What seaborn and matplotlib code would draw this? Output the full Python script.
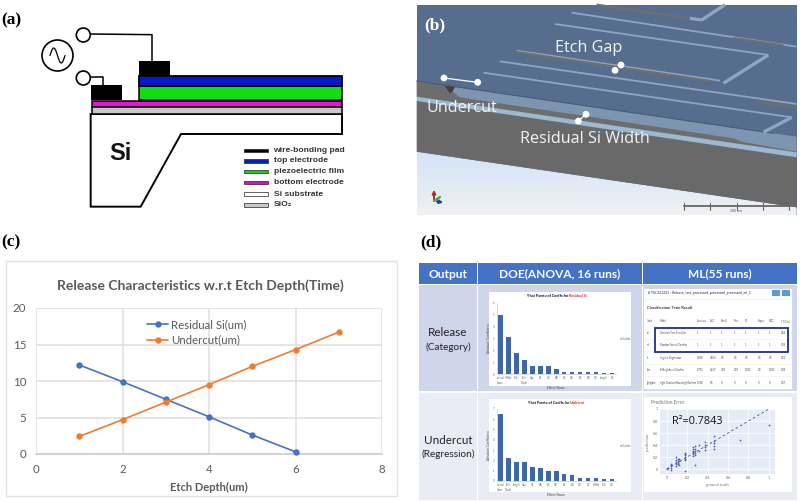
import numpy as np
import pandas as pd
import seaborn as sns
import matplotlib.pyplot as plt
from matplotlib.patches import Rectangle, Polygon, Circle

# (c) release curves
depth_residual = [1, 2, 3, 4, 5, 6]
residual_si = [12.2, 9.9, 7.5, 5.1, 2.6, 0.3]
depth_undercut = [1, 2, 3, 4, 5, 6, 7]
undercut = [2.4, 4.7, 7.1, 9.5, 12.0, 14.3, 16.7]

# (d) pareto bars
pareto_res_labels = ['Lateral\nSpace', 'Width', 'SF6', 'Etch\nDepth', 'Gap', 'C4', 'O2', 'AB', 'AC', 'AD', 'BC', 'BD', 'CD', 'Length', 'DE']
pareto_res = [5.0, 3.1, 1.75, 1.2, 0.67, 0.67, 0.67, 0.4, 0.17, 0.17, 0.17, 0.14, 0.14, 0.11, 0.11]
pareto_und_labels = ['Lateral\nSpace', 'Etch\nDepth', 'Length', 'Gap', 'C4', 'AB', 'AC', 'AD', 'BC', 'BD', 'CD', 'DE', 'Width', 'SF6', 'O2']
pareto_und = [6.5, 2.2, 1.8, 1.8, 1.4, 1.3, 0.95, 0.95, 0.65, 0.55, 0.3, 0.3, 0.3, 0.2, 0.2]

# (d) prediction error scatter
truth = [0, 0.01, 0.045, 0.045, 0.045, 0.045, 0.045, 0.09, 0.09, 0.09, 0.09, 0.09, 0.11, 0.11, 0.11, 0.11,
         0.12, 0.12, 0.12, 0.18, 0.18, 0.18, 0.18, 0.18, 0.18, 0.18, 0.26, 0.26, 0.26, 0.26, 0.26, 0.26,
         0.28, 0.28, 0.28, 0.28, 0.28, 0.28, 0.32, 0.32, 0.37, 0.37, 0.37, 0.37, 0.46, 0.46, 0.46, 0.46, 0.46, 0.72, 1.0]
predicted = [0, 0.01, -0.02, 0.02, 0.05, 0.07, 0.08, 0.05, 0.08, 0.12, 0.15, 0.2, 0.08, 0.1, 0.13, 0.17,
             0.07, 0.14, 0.16, 0.15, 0.17, 0.2, 0.23, 0.25, 0.27, -0.03, 0.22, 0.25, 0.28, 0.3, 0.33, 0.37,
             0.06, 0.24, 0.27, 0.3, 0.34, 0.38, 0.3, 0.4, 0.32, 0.37, 0.4, 0.45, 0.34, 0.38, 0.43, 0.46, 0.55, 0.49, 0.73]

# (d) classification table
table_cols = ['Index', 'Model', 'Accuracy', 'AUC', 'Recall', 'Prec.', 'F1', 'Kappa', 'MCC', 'TT (Sec)']
table_rows = [['dt', 'Decision Tree Classifier', '1', '1', '1', '1', '1', '1', '1', '0.86'],
              ['rf', 'Random Forest Classifier', '1', '1', '1', '1', '1', '1', '1', '0.28'],
              ['lr', 'Logistic Regression', '0.958', '0.863', '0.5', '0.5', '0.5', '0.5', '0.5', '0.22'],
              ['knn', 'K Neighbors Classifier', '0.792', '0.667', '0.25', '0.25', '0.222', '0.2', '0.225', '0.08'],
              ['lightgbm', 'Light Gradient Boosting Machine', '0.788', '0.5', '0', '0', '0', '0', '0', '0.07']]

# (a) legend
layer_names = ['wire-bonding pad', 'top electrode', 'piezoelectric film', 'bottom electrode', 'Si substrate', 'SiO\u2082']
layer_colors = ['#000000', '#0a1fb4', '#19d219', '#d90fc8', '#ffffff', '#c8c8c8']

sns.set_theme(style='white')
plt.rcParams['font.family'] = ['Lato', 'DejaVu Sans']

W, H = 800, 501
fig = plt.figure(figsize=(8, 5.01), dpi=100)

# whole figure in pixels, for the schematic parts
bg = fig.add_axes([0, 0, 1, 1], zorder=0)
bg.set_xlim(0, W)
bg.set_ylim(H, 0)
bg.axis('off')


def px_axes(x0, y0, x1, y1, z=3):
    return fig.add_axes([x0 / W, 1 - y1 / H, (x1 - x0) / W, (y1 - y0) / H], zorder=z)


def rect(x0, y0, x1, y1, fc, ec='none', lw=0, z=1):
    bg.add_patch(Rectangle((x0, y0), x1 - x0, y1 - y0, fc=fc, ec=ec, lw=lw, zorder=z))


def panel_label(s, x, y, color='black'):
    bg.text(x, y, s, family='Liberation Serif', weight='bold', fontsize=12.5, color=color, va='center', zorder=20)


# ---- (a) ----
panel_label('(a)', 1.5, 20)
def a(pts):
    return [(p[0] / 3, p[1] / 3) for p in pts]

bg.add_patch(Polygon(a([(272, 342), (1026, 342), (1026, 402), (543, 402), (422, 620), (272, 620)]), fc='white', ec='black', lw=1.4))
rect(91.5, 100.5, 341.5, 107, '#f00fd8', 'black', 1.1)
rect(91.5, 107, 341.5, 113.5, '#c9c9c9', 'black', 1.1)
rect(138.5, 86, 341.5, 100, '#12dc12', 'black', 1.1)
rect(138.5, 76, 342, 86, '#0718c8', 'black', 1.3)
rect(139, 61, 170, 76, 'black')
rect(91, 85, 122, 100, 'black')
bg.plot(np.array([272, 456, 456]) / 3, np.array([102, 104, 183]) / 3, color='black', lw=1.1)
bg.plot(np.array([272, 310, 310]) / 3, np.array([232, 232, 254]) / 3, color='black', lw=1.1)
bg.add_patch(Circle((83.3, 35), 7, fc='white', ec='black', lw=1.2, zorder=3))
bg.add_patch(Circle((83.3, 78), 7, fc='white', ec='black', lw=1.2, zorder=3))
bg.add_patch(Circle((57.5, 55.5), 15.5, fc='white', ec='black', lw=1.2, zorder=3))
wave_t = np.linspace(0, 2 * np.pi, 40)
bg.plot(57.5 + 7.5 * (wave_t / np.pi - 1), 55.5 - 7.5 * np.sin(wave_t), color='black', lw=0.9, zorder=4)
bg.text(109, 154, 'Si', fontsize=17, weight='bold', family='Liberation Sans', color='#111111', ha='left', va='center', zorder=4)
for i, (name, col) in enumerate(zip(layer_names, layer_colors)):
    y = [150.5, 161, 171.5, 182.5, 194, 205][i]
    rect(244, y - 1.7, 267.5, y + 1.7, col, '#222222', 0.5)
    bg.text(273.5, y, name, fontsize=6.1, weight='bold', family='Liberation Sans', color='#333333', va='center')

# ---- (b) ----
panel_label('(b)', 424.5, 25, 'white')
def b(pts):
    return [(400 + p[0] / 3, p[1] / 3) for p in pts]

def poly_b(pts, col, z):
    bg.add_patch(Polygon(b(pts), fc=col, ec='none', zorder=z))

rect(417, 5, 797, 215, '#566d8d', z=1)
sky = np.linspace(0, 1, 50)[:, None]
im = bg.imshow(sky, extent=(417, 797, 215, 150), cmap=sns.light_palette('#cfe2fa', reverse=True, as_cmap=True),
               vmin=-0.1, vmax=1, aspect='auto', zorder=2)
bg.set_xlim(0, W)
bg.set_ylim(H, 0)
im.set_clip_path(Polygon(b([(50, 455), (1190, 622), (1190, 645), (50, 645)]), transform=bg.transData))
poly_b([(50, 303), (1190, 472), (1190, 622), (50, 455)], '#696969', 2)
poly_b([(50, 243), (1120, 400), (1190, 410), (1190, 460), (50, 290)], '#6d6d6d', 2)
poly_b([(50, 290), (1190, 457), (1190, 472), (50, 303)], '#9db8d2', 3)
poly_b([(165, 260), (157, 275), (180, 292), (1000, 415), (1025, 425), (1190, 455), (1190, 400), (1120, 400)], '#7d95b0', 3)
poly_b([(135, 258), (165, 260), (157, 275), (150, 280)], '#3e3e3e', 3)
poly_b([(1120, 400), (1190, 355), (1190, 410)], '#566d8d', 3)
bg.plot(*zip(*b([(50, 243), (1120, 400)])), color='#475a76', lw=0.8, zorder=4)

edge = '#8ea6c2'
slot = '#6f6f6f'
def slit(p0, p1, col=edge, lw=1.3):
    bg.plot(*zip(*b([p0, p1])), color=col, lw=lw, solid_capstyle='butt', zorder=4)

slit((465, 72), (1105, 165))
slit((1105, 165), (970, 250), lw=2.4)
slit((350, 152), (960, 242))
slit((350, 156), (930, 243), slot, 1.6)
slit((300, 184), (1190, 312))
slit((1070, 305), (1190, 322), slot, 1.6)
slit((250, 218), (1175, 352))
slit((1175, 352), (1090, 397), lw=2.4)
slit((515, 38), (1190, 140))
slit((1000, 114), (1150, 136), slot, 1.6)
slit((590, 14), (870, 55), slot, 1.6)
slit((870, 55), (905, 60), lw=2.4)
slit((905, 60), (975, 14), lw=2.4)

bg.plot(*zip(*b([(132, 234), (233, 247)])), color='white', lw=0.9, zorder=6)
bg.plot(*zip(*b([(535, 363), (558, 343)])), color='white', lw=0.9, zorder=6)
for p in [(132, 234), (233, 247), (645, 211), (663, 195), (535, 363), (558, 343)]:
    bg.add_patch(Circle(b([p])[0], 3.4, fc='white', ec='none', zorder=7))
for s, x, y in [('Etch Gap', 555, 48), ('Undercut', 427, 108), ('Residual Si Width', 520, 139)]:
    bg.text(x, y, s, color='#f2f5f8', fontsize=11.6, family='Open Sans', va='center', zorder=8)

# axis triad and scale bar
bg.annotate('', xy=(434, 187), xytext=(434, 202), arrowprops=dict(arrowstyle='-|>', color='#c0261e', lw=1.4, mutation_scale=5), zorder=8)
bg.annotate('', xy=(446, 203), xytext=(434, 201), arrowprops=dict(arrowstyle='-|>', color='#1f3fb0', lw=1.4, mutation_scale=5), zorder=8)
bg.plot([434, 440], [201, 197], color='#2fae4a', lw=1.6, zorder=8)
bg.plot([684, 789], [206, 206], color='#666666', lw=1.3, zorder=8)
for x in [684, 710, 737, 763, 789]:
    bg.plot([x, x], [203, 210], color='#666666', lw=0.8, zorder=8)
bg.text(736, 211, '200 um', fontsize=2.5, color='#555555', ha='center', va='center', zorder=8)

# ---- (c) ----
panel_label('(c)', 1.5, 242)
rect(6, 261, 397, 496, 'white', '#e3e3e3', 1)
axc = px_axes(36, 308, 382, 454)
sns.lineplot(x=depth_residual, y=residual_si, ax=axc, color='#4472c4', marker='o', markersize=4.6, lw=1.2,
             markeredgewidth=0, label='Residual Si(um)', clip_on=False, zorder=3)
sns.lineplot(x=depth_undercut, y=undercut, ax=axc, color='#ed7d31', marker='o', markersize=4.6, lw=1.2,
             markeredgewidth=0, label='Undercut(um)', clip_on=False, zorder=4)
axc.set_xlim(0, 8)
axc.set_ylim(0, 20)
axc.set_xticks([0, 2, 4, 6, 8])
axc.set_yticks([0, 5, 10, 15, 20])
axc.grid(True, color='#dedede', lw=1.1)
axc.set_axisbelow(True)
axc.patch.set_alpha(0)
axc.tick_params(length=0, labelsize=8.3, labelcolor='#595959', pad=7)
for name, sp in axc.spines.items():
    sp.set_visible(name == 'bottom')
    sp.set_color('#cfcfcf')
axc.set_xlabel('Etch Depth(um)', fontsize=8, weight='bold', color='#595959', labelpad=5)
axc.legend(loc='upper left', bbox_to_anchor=(0.32, 0.925), frameon=False, fontsize=8.2, labelcolor='#595959',
           handlelength=1.9, handletextpad=0.25, labelspacing=0.42, borderpad=0, borderaxespad=0)
bg.text(200.5, 285.5, 'Release Characteristics w.r.t Etch Depth(Time)', fontsize=10, weight='bold', color='#595959',
        ha='center', va='center', zorder=5)

# ---- (d) ----
panel_label('(d)', 420, 242)
rect(419, 263, 477, 283.5, '#4472c4')
rect(478, 263, 642, 283.5, '#4472c4')
rect(643, 263, 797, 283.5, '#4472c4')
rect(419, 285, 477, 391, '#cfd5ea')
rect(478, 285, 642, 391, '#cfd5ea')
rect(643, 285, 797, 391, '#cfd5ea')
rect(419, 392.5, 477, 500, '#e9ebf5')
rect(478, 392.5, 642, 500, '#e9ebf5')
rect(643, 392.5, 797, 500, '#e9ebf5')
for s, x in [('Output', 448), ('DOE(ANOVA, 16 runs)', 560), ('ML(55 runs)', 719.5)]:
    bg.text(x, 274, s, color='white', weight='bold', fontsize=8.6, ha='center', va='center', zorder=5)
bg.text(448, 332, 'Release', fontsize=8.4, color='#222222', ha='center', va='center', zorder=5)
bg.text(448, 347, '(Category)', fontsize=7.2, color='#222222', ha='center', va='center', zorder=5)
bg.text(448, 441, 'Undercut', fontsize=8.4, color='#222222', ha='center', va='center', zorder=5)
bg.text(448, 454, '(Regression)', fontsize=7.2, color='#222222', ha='center', va='center', zorder=5)


def pareto(values, labels, box, area, ymax, title, hl, hl_x):
    rect(*box, 'white', z=2)
    ax = px_axes(*area)
    df = pd.DataFrame({'factor': labels, 'coef': values})
    sns.barplot(data=df, x='factor', y='coef', ax=ax, color='#3d66ab', width=0.55, saturation=1, linewidth=0)
    ax.set_ylim(0, ymax)
    ax.set_yticks(range(0, int(ymax) + 1))
    ax.tick_params(labelsize=1.9, length=0.8, width=0.3, pad=0.8, colors='#666666')
    ax.set_xlabel('Effect Name', fontsize=2.3, labelpad=1, color='#444444')
    ax.set_ylabel('Absolute Coefficient', fontsize=2.3, labelpad=1, color='#444444')
    sns.despine(ax=ax)
    for sp in ax.spines.values():
        sp.set_linewidth(0.4)
        sp.set_color('#bbbbbb')
    bg.text(hl_x, box[1] + 3.7, title, fontsize=2.6, weight='bold', color='black', ha='right', va='center', zorder=5)
    bg.text(hl_x, box[1] + 3.7, hl, fontsize=2.6, weight='bold', color='#e0201c', ha='left', va='center', zorder=5)
    bg.text(625, (area[1] + area[3]) / 2 + 1, 'm Units', fontsize=2.2, color='#555555', ha='center', va='center', zorder=5)


pareto(pareto_res, pareto_res_labels, (489, 292, 631, 386), (496.7, 303, 616, 374), 6, 'Y-hat Pareto of Coeffs for ', 'Residual Si', 569)
pareto(pareto_und, pareto_und_labels, (489, 399, 631, 492), (496.7, 409, 616, 481), 7, 'Y-hat Pareto of Coeffs for ', 'Undercut', 570)

# classification result table
rect(644, 289, 792, 389, 'white', z=2)
bg.text(648, 293, '# YSJ 221221 - Release_test_processed_processed_processed_ml_1', fontsize=2.4, weight='bold', color='#555555', va='center', zorder=5)
rect(772, 290, 780, 295.5, '#5b9bd5', z=4)
rect(782, 290, 790, 295.5, '#5b9bd5', z=4)
bg.plot([644, 792], [299, 299], color='#eeeeee', lw=0.5, zorder=4)
bg.text(647, 308, 'Classification Train Result', fontsize=2.8, weight='bold', color='#333333', va='center', zorder=5)
col_x = [647, 660, 697, 710, 721, 734, 745, 758, 769, 781]
row_y = [333, 345, 358, 370, 383]
for x, name in zip(col_x, table_cols):
    bg.text(x, 321, name, fontsize=1.8, color='#555555', va='center', zorder=5)
for y, row in zip(row_y, table_rows):
    for x, val in zip(col_x, row):
        bg.text(x, y, val, fontsize=1.8, color='#444444', va='center', zorder=5)
    bg.plot([644, 792], [y + 6, y + 6], color='#eeeeee', lw=0.4, zorder=4)
rect(654.5, 328, 788, 352, 'none', '#1f2f8f', 1.3, z=6)

# prediction error
rect(644, 397, 792, 492, 'white', z=2)
bg.text(651, 402, 'Prediction Error', fontsize=3.4, color='#777777', va='center', zorder=5)
axs = px_axes(660, 409, 775, 474)
axs.set_facecolor('#e5ecf6')
sns.lineplot(x=[0, 1], y=[0, 1], ax=axs, color='#44558f', lw=0.6, ls=(0, (3, 3)))
sns.scatterplot(x=truth, y=predicted, ax=axs, color='#4b5fb0', s=1.6, linewidth=0, zorder=3)
axs.set_xlim(-0.066, 1.06)
axs.set_ylim(-0.083, 1.0)
axs.set_xticks([0, 0.2, 0.4, 0.6, 0.8, 1])
axs.set_yticks([0, 0.2, 0.4, 0.6, 0.8, 1])
axs.set_xticklabels(['0', '0.2', '0.4', '0.6', '0.8', '1'])
axs.set_yticklabels(['0', '0.2', '0.4', '0.6', '0.8', '1'])
axs.grid(True, color='white', lw=0.5)
axs.set_axisbelow(True)
axs.tick_params(labelsize=2.6, length=0, pad=1.5, labelcolor='#666666')
axs.set_xlabel('ground truth', fontsize=3, color='#777777', labelpad=2)
axs.set_ylabel('prediction', fontsize=3, color='#777777', labelpad=2)
sns.despine(ax=axs, left=True, bottom=True)
axs.text(0.104, 0.80, 'R\u00b2=0.7843', transform=axs.transAxes, fontsize=7.8, family='Open Sans', color='#111111', va='center')

fig.savefig('out.png', dpi=100)
